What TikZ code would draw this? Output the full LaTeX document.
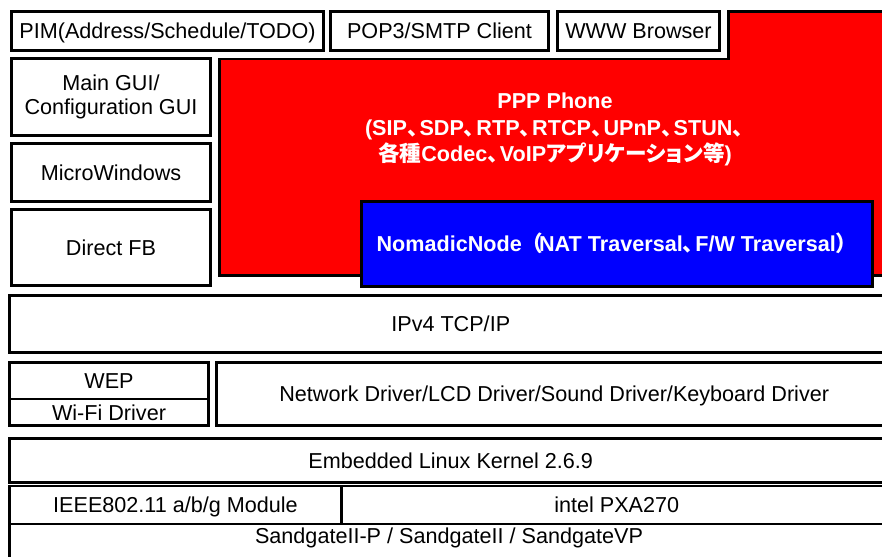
\documentclass[tikz,border=0pt]{standalone}
\usepackage{fontspec}
\setmainfont{Liberation Sans}
\newfontfamily\cjk{Noto Sans CJK JP}
\newfontfamily\cjkp{Noto Sans CJK JP}[RawFeature=+palt]
\newcommand\J[1]{{\cjk\bfseries #1}}
\newcommand\JP[1]{{\cjkp\bfseries #1}}
\newcommand\JC{{\cjk\bfseries 、}\kern-0.42em}
\begin{document}
\begin{tikzpicture}[x=1pt,y=-1pt,
  box/.style={draw=black,line width=2.8pt,fill=white,inner sep=0pt,align=center,
    font=\fontsize{21.6}{24.5}\selectfont},
  one/.style={text height=15.5pt,text depth=0pt},
  layer/.style={draw=black,line width=2.8pt},
  boldtxt/.style={inner sep=0pt,align=center,text=white,
    font=\fontsize{21.6}{26.5}\selectfont\bfseries}]
\useasboundingbox (0,0) rectangle (882,556);
\fill[white] (0,0) rectangle (882,556);
% top row
\node[box,one,minimum width=312pt,minimum height=39pt] (pim) at (167.5,31) {PIM(Address/Schedule/TODO)};
\node[box,one,minimum width=218pt,minimum height=39pt] (pop) at (439.5,31) {POP3/SMTP Client};
\node[box,one,minimum width=162pt,minimum height=39pt] (www) at (638.5,31) {WWW Browser};
% PPP Phone (red L-shape)
\draw[layer,fill=red] (219.5,59) -- (728.5,59) -- (728.5,11.5) -- (892,11.5) -- (892,275.5) -- (219.5,275.5) -- cycle;
\node[boldtxt] (ppp) at (555,129.5) {PPP Phone\\(SIP\JC SDP\JC RTP\JC RTCP\JC UPnP\JC STUN\JC\\\J{各種}Codec\JC VoIP\JP{アプリケーション}\J{等})};
\node[box,one,fill=blue,text=white,font=\fontsize{21.6}{24.5}\selectfont\bfseries,minimum width=511pt,minimum height=85pt] (nomadic) at (617,244) {NomadicNode\J{（}\kern-0.2em NAT Traversal\JC F/W Traversal\J{）}};
% left column
\node[box,minimum width=199pt,minimum height=77pt] (gui) at (111,97) {Main GUI/\\Configuration GUI};
\node[box,one,minimum width=199pt,minimum height=58pt] (micro) at (111,172.5) {MicroWindows};
\node[box,one,minimum width=199pt,minimum height=76pt] (dfb) at (111,247.5) {Direct FB};
% network
\node[box,one,minimum width=882.5pt,minimum height=57pt] (ip) at (450.75,324) {IPv4 TCP/IP};
\node[box,one,minimum width=199pt,minimum height=36.5pt] (wep) at (109,380.75) {WEP};
\node[box,one,minimum width=199pt,minimum height=26.5pt] (wifi) at (109,412.25) {Wi-Fi Driver};
\node[box,one,minimum width=675.5pt,minimum height=63pt] (drv) at (554.25,394) {Network Driver/LCD Driver/Sound Driver/Keyboard Driver};
% kernel and hardware
\node[box,one,minimum width=882.5pt,minimum height=44pt] (kernel) at (450.75,460.5) {Embedded Linux Kernel 2.6.9};
\node[box,one,minimum width=332pt,minimum height=38pt] (ieee) at (175.5,505) {IEEE802.11 a/b/g Module};
\node[box,one,minimum width=550.5pt,minimum height=38pt] (pxa) at (616.75,505) {intel PXA270};
\node[box,minimum width=882.5pt,minimum height=35pt] (board) at (450.75,541.5) {};
\node[inner sep=0pt,text height=15.5pt,text depth=0pt,font=\fontsize{21.6}{24.5}\selectfont] (boardtxt) at (449,535.5) {SandgateII-P / SandgateII / SandgateVP};
\end{tikzpicture}
\end{document}
